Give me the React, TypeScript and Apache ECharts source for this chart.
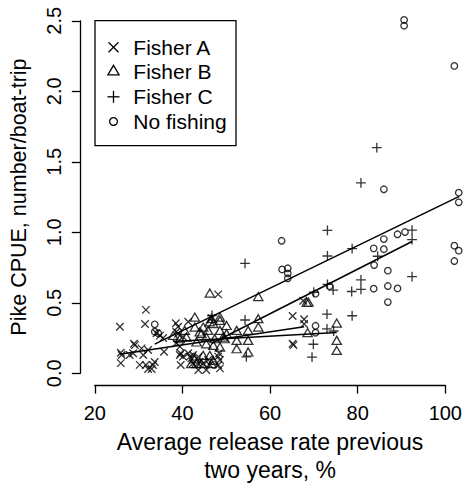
import React, { useEffect, useRef } from "react";
import * as echarts from "echarts";

// ---- data ----
const fisherA: number[][] = [
  [25.7, 0.33], [25.9, 0.146], [25.9, 0.072], [26.1, 0.13], [27.9, 0.13], [28.7, 0.142],
  [28.9, 0.21], [29.1, 0.2], [30.2, 0.06], [30.6, 0.177], [31.0, 0.13], [31.4, 0.35],
  [31.6, 0.45], [31.6, 0.059], [32.1, 0.165], [32.1, 0.03], [32.9, 0.03], [33.2, 0.059],
  [33.6, 0.08], [34.0, 0.284], [34.8, 0.267], [35.5, 0.25], [35.7, 0.153], [38.4, 0.355],
  [38.9, 0.33], [38.5, 0.295], [38.5, 0.213], [39.3, 0.189], [38.9, 0.28], [40.0, 0.26],
  [39.5, 0.142], [39.3, 0.13], [40.0, 0.118], [39.5, 0.059], [41.2, 0.366], [41.2, 0.142],
  [41.9, 0.106], [41.6, 0.118], [42.3, 0.071], [42.3, 0.13], [43.5, 0.118], [43.5, 0.023],
  [43.8, 0.082], [44.6, 0.071], [45.3, 0.023], [45.7, 0.094], [46.1, 0.059], [46.5, 0.39],
  [48.0, 0.56], [48.0, 0.118], [48.0, 0.059], [48.4, 0.035], [48.4, 0.094], [48.2, 0.142],
  [64.9, 0.406], [67.5, 0.383], [67.5, 0.35], [67.3, 0.515], [64.9, 0.21], [65.1, 0.2],
];
const fisherB: number[][] = [
  [37.8, 0.26], [39.3, 0.236], [40.4, 0.295], [40.8, 0.248], [41.9, 0.059], [42.7, 0.39],
  [42.7, 0.319], [42.7, 0.094], [43.1, 0.213], [43.1, 0.059], [43.8, 0.284], [44.2, 0.272],
  [44.2, 0.059], [44.6, 0.319], [44.6, 0.118], [45.3, 0.248], [45.3, 0.2], [45.7, 0.295],
  [46.1, 0.56], [46.1, 0.118], [46.1, 0.355], [46.5, 0.378], [46.5, 0.059], [46.9, 0.343],
  [46.9, 0.189], [46.9, 0.082], [47.2, 0.236], [48.4, 0.39], [48.4, 0.366], [48.4, 0.295],
  [48.4, 0.177], [49.1, 0.248], [49.5, 0.236], [49.9, 0.33], [49.9, 0.272], [52.2, 0.295],
  [52.2, 0.224], [52.2, 0.165], [54.8, 0.295], [54.8, 0.224], [54.8, 0.142], [57.1, 0.535],
  [57.1, 0.378], [57.1, 0.319], [68.1, 0.495], [68.5, 0.495], [68.3, 0.28], [74.9, 0.347],
  [74.9, 0.224], [74.9, 0.153],
];
const fisherC: number[][] = [
  [46.6, 0.41], [54.1, 0.78], [54.1, 0.378], [54.4, 0.116], [69.6, 0.206], [69.3, 0.115],
  [69.7, 0.575], [72.8, 0.63], [74.1, 0.59], [72.7, 0.42], [78.4, 0.408], [72.7, 0.315],
  [74.2, 0.3], [72.8, 1.013], [72.8, 0.832], [78.4, 0.884], [80.4, 1.35], [84.0, 1.6],
  [80.4, 0.662], [80.4, 0.595], [78.3, 0.58], [84.2, 0.83], [92.0, 1.016], [92.0, 0.948],
  [92.0, 0.686],
];
const noFishing: number[][] = [
  [33.6, 0.347], [33.6, 0.295], [34.4, 0.284], [62.4, 0.94], [62.5, 0.737], [63.8, 0.745],
  [63.8, 0.709], [63.8, 0.674], [70.1, 0.565], [73.3, 0.618], [70.1, 0.337], [70.1, 0.288],
  [90.2, 2.506], [90.2, 2.465], [101.6, 2.18], [85.6, 1.305], [102.6, 1.281], [102.6, 1.213],
  [101.6, 0.905], [102.6, 0.87], [101.6, 0.796], [85.6, 0.952], [88.7, 0.986], [90.4, 1.002],
  [83.3, 0.886], [85.6, 0.88], [83.4, 0.768], [86.5, 0.728], [83.3, 0.6], [86.5, 0.619],
  [88.7, 0.602], [86.5, 0.505],
];
// fitted lines (end points)
const fitNoFishing: number[][] = [[33.6, 0.207], [102.7, 1.255]];
const fitC: number[][] = [[46.6, 0.213], [92.0, 0.935]];
const fitA: number[][] = [[25.7, 0.135], [67.5, 0.33]];
const fitB: number[][] = [[37.8, 0.225], [74.9, 0.29]];

const xTicks = [20, 40, 60, 80, 100];
const yTickLabels = ["0.0", "0.5", "1.0", "1.5", "2.0", "2.5"];
const legendLabels = ["Fisher A", "Fisher B", "Fisher C", "No fishing"];
const xTitle = "Average release rate previous\ntwo years, %";
const yTitle = "Pike CPUE, number/boat-trip";

const FONT = "'Liberation Sans', Arial, Helvetica, sans-serif";

export default function App() {
  const ref = useRef<HTMLDivElement>(null);
  useEffect(() => {
    if (!ref.current) return;
    const chart = echarts.init(ref.current, null, { renderer: "svg" });
    const sym = { color: "transparent", borderColor: "#000", borderWidth: 1.3 };
    const lineSt = { stroke: "#000", lineWidth: 1.3 };
    const lineSeries = (d: number[][]) => ({
      type: "line",
      xAxisIndex: 0,
      yAxisIndex: 0,
      data: d,
      showSymbol: false,
      symbol: "none",
      silent: true,
      lineStyle: { color: "#000", width: 1.5 },
      z: 3,
    });
    const lx = 113.5;
    const rows = [47.3, 71.5, 96.8, 121.5];
    chart.setOption({
      animation: false,
      backgroundColor: "#fff",
      grid: [
        { left: 80.7, top: 6.7, width: 380.7, height: 380.7 },
        { left: 94.8, top: 6.7, width: 352.3, height: 381.3 },
        { left: 80.3, top: 20.8, width: 380.7, height: 352.5 },
      ],
      xAxis: [
        { gridIndex: 0, type: "value", min: 16.8, max: 103.2, show: false },
        {
          gridIndex: 1,
          type: "value",
          min: 20,
          max: 100,
          interval: 20,
          position: "bottom",
          axisLine: { show: true, onZero: false, lineStyle: { color: "#000", width: 1.3 } },
          axisTick: { show: true, length: 8.5, lineStyle: { color: "#000", width: 1.3 } },
          axisLabel: {
            margin: 18,
            fontSize: 20,
            color: "#000",
            fontFamily: FONT,
            formatter: (v: number) => (xTicks.includes(v) ? String(v) : ""),
          },
          splitLine: { show: false },
          name: xTitle,
          nameLocation: "middle",
          nameGap: 41,
          nameTextStyle: { fontSize: 23, lineHeight: 28, color: "#000", fontFamily: FONT },
        },
        { gridIndex: 2, type: "value", min: 0, max: 1, show: false },
      ],
      yAxis: [
        { gridIndex: 0, type: "value", min: -0.1, max: 2.6, show: false },
        { gridIndex: 1, type: "value", min: 0, max: 1, show: false },
        {
          gridIndex: 2,
          type: "value",
          min: 0,
          max: 2.5,
          interval: 0.5,
          position: "left",
          axisLine: { show: true, onZero: false, lineStyle: { color: "#000", width: 1.3 } },
          axisTick: { show: true, length: 8.5, lineStyle: { color: "#000", width: 1.3 } },
          axisLabel: {
            rotate: 90,
            margin: 16,
            fontSize: 20,
            color: "#000",
            fontFamily: FONT,
            formatter: (v: number) => yTickLabels[Math.round(v / 0.5)] ?? "",
          },
          splitLine: { show: false },
          name: yTitle,
          nameLocation: "middle",
          nameRotate: 90,
          nameGap: 50,
          nameTextStyle: { fontSize: 21.5, color: "#000", fontFamily: FONT },
        },
      ],
      series: [
        {
          name: legendLabels[0],
          type: "scatter",
          xAxisIndex: 0,
          yAxisIndex: 0,
          data: fisherA,
          symbol: "path://M0,0L10,10M10,0L0,10",
          symbolSize: 7.5,
          itemStyle: sym,
          silent: true,
        },
        {
          name: legendLabels[1],
          type: "scatter",
          xAxisIndex: 0,
          yAxisIndex: 0,
          data: fisherB,
          symbol: "path://M5,0L10,8.66L0,8.66Z",
          symbolSize: [9.3, 8.05],
          symbolOffset: [0, -1.3],
          itemStyle: sym,
          silent: true,
        },
        {
          name: legendLabels[2],
          type: "scatter",
          xAxisIndex: 0,
          yAxisIndex: 0,
          data: fisherC,
          symbol: "path://M5,0L5,10M0,5L10,5",
          symbolSize: 9.8,
          itemStyle: sym,
          silent: true,
        },
        {
          name: legendLabels[3],
          type: "scatter",
          xAxisIndex: 0,
          yAxisIndex: 0,
          data: noFishing,
          symbol: "circle",
          symbolSize: 6.5,
          itemStyle: sym,
          silent: true,
        },
        lineSeries(fitNoFishing),
        lineSeries(fitC),
        lineSeries(fitA),
        lineSeries(fitB),
      ],
      graphic: [
        {
          type: "rect",
          shape: { x: 95, y: 20.7, width: 141, height: 125 },
          style: { fill: "#fff", stroke: "#000", lineWidth: 1.3 },
          z: 10,
        },
        { type: "line", shape: { x1: lx - 5, y1: rows[0] - 5, x2: lx + 5, y2: rows[0] + 5 }, style: lineSt, z: 11 },
        { type: "line", shape: { x1: lx + 5, y1: rows[0] - 5, x2: lx - 5, y2: rows[0] + 5 }, style: lineSt, z: 11 },
        {
          type: "polygon",
          shape: { points: [[lx, rows[1] - 6.2], [lx + 5.6, rows[1] + 3.4], [lx - 5.6, rows[1] + 3.4]] },
          style: { fill: "none", stroke: "#000", lineWidth: 1.3 },
          z: 11,
        },
        { type: "line", shape: { x1: lx - 6, y1: rows[2], x2: lx + 6, y2: rows[2] }, style: lineSt, z: 11 },
        { type: "line", shape: { x1: lx, y1: rows[2] - 6, x2: lx, y2: rows[2] + 6 }, style: lineSt, z: 11 },
        {
          type: "circle",
          shape: { cx: lx, cy: rows[3], r: 3.9 },
          style: { fill: "none", stroke: "#000", lineWidth: 1.3 },
          z: 11,
        },
        ...legendLabels.map((t, i) => ({
          type: "text",
          x: 133.3,
          y: rows[i],
          style: {
            text: t,
            fontSize: 21,
            fontFamily: FONT,
            fill: "#000",
            textVerticalAlign: "middle",
            verticalAlign: "middle",
          },
          z: 11,
        })),
      ],
    });
    return () => chart.dispose();
  }, []);
  return (
    <div
      ref={ref}
      style={{ position: "fixed", left: 0, top: 0, width: 465, height: 489, background: "#fff" }}
    />
  );
}
